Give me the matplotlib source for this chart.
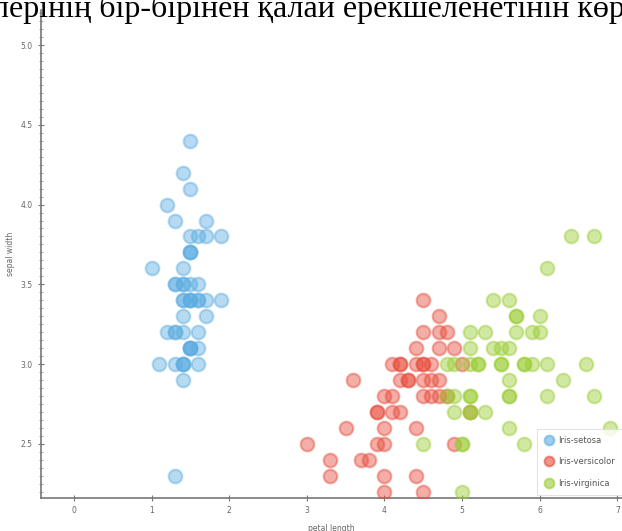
import matplotlib
matplotlib.use("Agg")
import matplotlib.pyplot as plt
from matplotlib.ticker import MultipleLocator
from matplotlib.lines import Line2D

# iris data: petal length (x) and sepal width (y) per species
setosa_petal_length = [1.4, 1.4, 1.3, 1.5, 1.4, 1.7, 1.4, 1.5, 1.4, 1.5,
                       1.5, 1.6, 1.4, 1.1, 1.2, 1.5, 1.3, 1.4, 1.7, 1.5,
                       1.7, 1.5, 1.0, 1.7, 1.9, 1.6, 1.6, 1.5, 1.4, 1.6,
                       1.6, 1.5, 1.5, 1.4, 1.5, 1.2, 1.3, 1.5, 1.3, 1.5,
                       1.3, 1.3, 1.3, 1.6, 1.9, 1.4, 1.6, 1.4, 1.5, 1.4]
setosa_sepal_width = [3.5, 3.0, 3.2, 3.1, 3.6, 3.9, 3.4, 3.4, 2.9, 3.1,
                      3.7, 3.4, 3.0, 3.0, 4.0, 4.4, 3.9, 3.5, 3.8, 3.8,
                      3.4, 3.7, 3.6, 3.3, 3.4, 3.0, 3.4, 3.5, 3.4, 3.2,
                      3.1, 3.4, 4.1, 4.2, 3.1, 3.2, 3.5, 3.1, 3.0, 3.4,
                      3.5, 2.3, 3.2, 3.5, 3.8, 3.0, 3.8, 3.2, 3.7, 3.3]

versicolor_petal_length = [4.7, 4.5, 4.9, 4.0, 4.6, 4.5, 4.7, 3.3, 4.6, 3.9,
                           3.5, 4.2, 4.0, 4.7, 3.6, 4.4, 4.5, 4.1, 4.5, 3.9,
                           4.8, 4.0, 4.9, 4.7, 4.3, 4.4, 4.8, 5.0, 4.5, 3.5,
                           3.8, 3.7, 3.9, 5.1, 4.5, 4.5, 4.7, 4.4, 4.1, 4.0,
                           4.4, 4.6, 4.0, 3.3, 4.2, 4.2, 4.2, 4.3, 3.0, 4.1]
versicolor_sepal_width = [3.2, 3.2, 3.1, 2.3, 2.8, 2.8, 3.3, 2.4, 2.9, 2.7,
                          2.0, 3.0, 2.2, 2.9, 2.9, 3.1, 3.0, 2.7, 2.2, 2.5,
                          3.2, 2.8, 2.5, 2.8, 2.9, 3.0, 2.8, 3.0, 2.9, 2.6,
                          2.4, 2.4, 2.7, 2.7, 3.0, 3.4, 3.1, 2.3, 3.0, 2.5,
                          2.6, 3.0, 2.6, 2.3, 2.7, 3.0, 2.9, 2.9, 2.5, 2.8]

virginica_petal_length = [6.0, 5.1, 5.9, 5.6, 5.8, 6.6, 4.5, 6.3, 5.8, 6.1,
                          5.1, 5.3, 5.5, 5.0, 5.1, 5.3, 5.5, 6.7, 6.9, 5.0,
                          5.7, 4.9, 6.7, 4.9, 5.7, 6.0, 4.8, 4.9, 5.6, 5.8,
                          6.1, 6.4, 5.6, 5.1, 5.6, 6.1, 5.6, 5.5, 4.8, 5.4,
                          5.6, 5.1, 5.1, 5.9, 5.7, 5.2, 5.0, 5.2, 5.4, 5.1]
virginica_sepal_width = [3.3, 2.7, 3.0, 2.9, 3.0, 3.0, 2.5, 2.9, 2.5, 3.6,
                         3.2, 2.7, 3.0, 2.5, 2.8, 3.2, 3.0, 3.8, 2.6, 2.2,
                         3.2, 2.8, 2.8, 2.7, 3.3, 3.2, 2.8, 3.0, 2.8, 3.0,
                         2.8, 3.8, 2.8, 2.8, 2.6, 3.0, 3.4, 3.1, 3.0, 3.1,
                         3.1, 3.1, 2.7, 3.2, 3.3, 3.0, 2.5, 3.0, 3.4, 3.0]

species_names = ["Iris-setosa", "Iris-versicolor", "Iris-virginica"]
species_colors = ["#5dade2", "#e74c3c", "#9acd32"]
x_ticks = [0, 1, 2, 3, 4, 5, 6, 7]
y_ticks = [2.5, 3.0, 3.5, 4.0, 4.5, 5.0]

heading = "лерінің бір-бірінен қалай ерекшеленетінін көр"

fig = plt.figure(figsize=(6.22, 5.31), dpi=100)
ax = fig.add_axes([41 / 622, 33 / 531, 1 - 41 / 622, (498 - 10) / 531])

series = [
    (setosa_petal_length, setosa_sepal_width),
    (versicolor_petal_length, versicolor_sepal_width),
    (virginica_petal_length, virginica_sepal_width),
]
for (xs, ys), name, col in zip(series, species_names, species_colors):
    ax.scatter(xs, ys, s=95, color=col, alpha=0.45, edgecolors=col,
               linewidths=1.6, label=name, zorder=3)

ax.set_xlim(-0.425, 7.06)
ax.set_ylim(2.16, 5.22)
ax.set_xticks(x_ticks)
ax.set_yticks(y_ticks)
ax.set_yticklabels([f"{v:.1f}" for v in y_ticks])
ax.yaxis.set_minor_locator(MultipleLocator(0.05))

for side in ["top", "right"]:
    ax.spines[side].set_visible(False)
for side in ["left", "bottom"]:
    ax.spines[side].set_color("#777777")
    ax.spines[side].set_linewidth(1.2)

ax.tick_params(axis="both", which="major", direction="inout", length=5,
               width=0.8, colors="#777777", labelsize=5.5, labelcolor="#666666")
ax.tick_params(axis="y", which="minor", direction="inout", length=2.5,
               width=0.6, colors="#999999")

ax.set_xlabel("petal length", fontsize=5.5, color="#666666", labelpad=6)
ax.set_ylabel("sepal width", fontsize=5.5, color="#666666", labelpad=4)

handles = [Line2D([], [], marker="o", linestyle="", markersize=7,
                  markerfacecolor=c, markeredgecolor=c, alpha=0.6,
                  markeredgewidth=1.5) for c in species_colors]
leg = ax.legend(handles, species_names, loc="lower right",
                bbox_to_anchor=(1.0, 36 / 531), bbox_transform=fig.transFigure,
                fontsize=6, frameon=True, fancybox=False, labelspacing=1.45,
                handletextpad=0.4, borderpad=0.9, handlelength=1.2,
                borderaxespad=0.0)
leg.get_frame().set_edgecolor("#dddddd")
leg.get_frame().set_linewidth(0.8)
for t in leg.get_texts():
    t.set_color("#555555")

fig.text(-0.012, (531 - 17) / 531, heading, fontfamily="Liberation Serif",
         fontsize=23, va="baseline", ha="left", color="black")

fig.savefig("out.png", dpi=100)
